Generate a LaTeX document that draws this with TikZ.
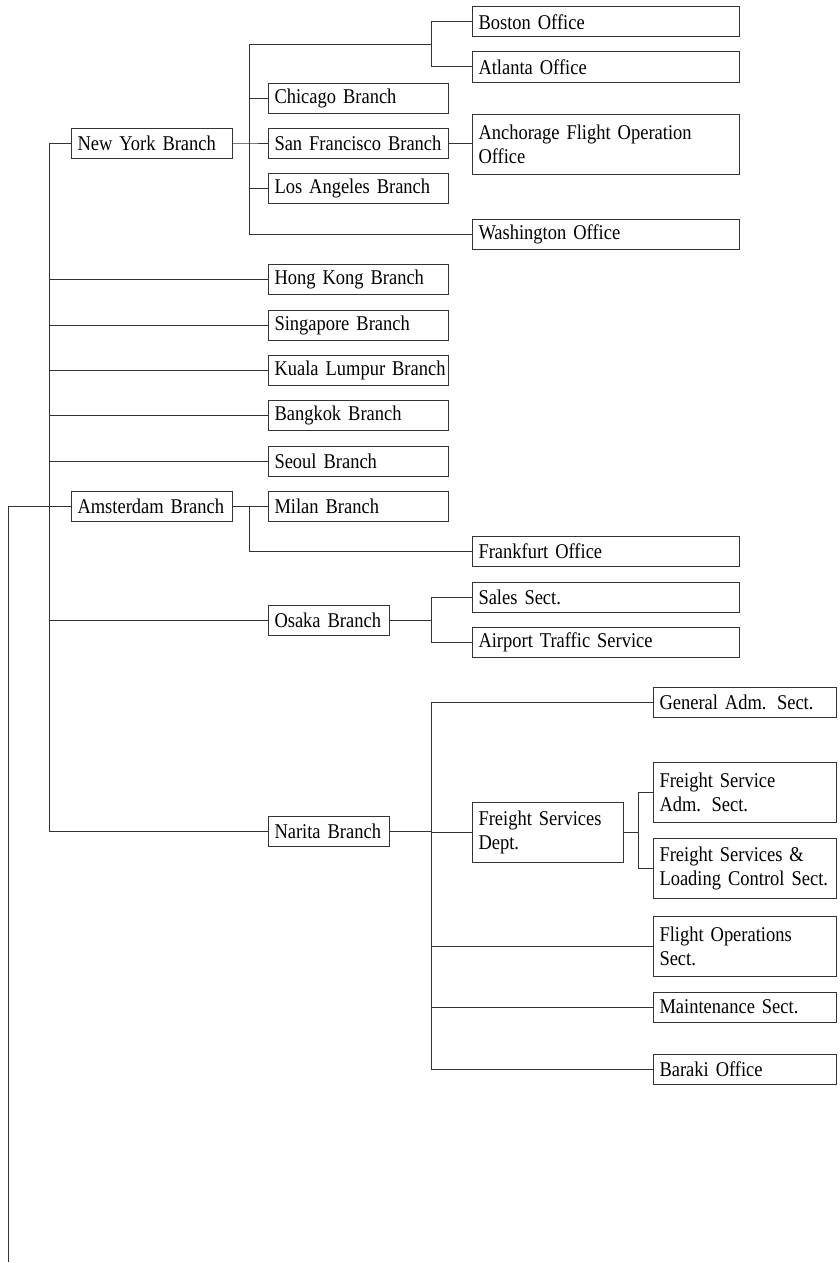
\documentclass[tikz,border=0pt]{standalone}
\usepackage{fontspec}
\setmainfont{Liberation Serif}[FakeStretch=0.88]
\usepackage{tikz}
\DeclareRobustCommand\chartfont{\fontsize{21pt}{24pt}\selectfont\spaceskip=4.5pt plus 1pt\relax}
\tikzset{
	x=1pt, y=-1pt, % one unit is one pixel of the chart, y grows downwards
	every node/.style={font=\chartfont},
	unit/.style={draw=black!80, line width=1pt, anchor=west, align=left,
		inner xsep=6pt, inner ysep=0pt, minimum height=30pt}, % every box of the chart
	tall/.style={minimum height=60pt}, % boxes with two lines of text
	branch/.style={unit, text width=149pt}, % 161 wide
	city/.style={unit, text width=168pt}, % 180 wide
	office/.style={unit, text width=255pt}, % 267 wide
	local/.style={unit, text width=109pt}, % 121 wide
	dept/.style={unit, text width=139pt}, % 151 wide
	sect/.style={unit, text width=171pt}, % 183 wide
	link/.style={draw=black!80, line width=1pt},
}
\begin{document}
\begin{tikzpicture}
	\useasboundingbox (0,0) rectangle (840,1263);
	% first level
	\node[branch] (ny) at (71,143) {New York Branch};
	\node[branch] (ams) at (71,506) {Amsterdam Branch};
	% under New York
	\node[city] (chi) at (268,98) {Chicago Branch};
	\node[city] (sf) at (268,143) {San Francisco Branch};
	\node[city] (la) at (268,188) {Los Angeles Branch};
	\node[office] (bos) at (472,22) {Boston Office};
	\node[office] (atl) at (472,67) {Atlanta Office};
	\node[office, tall] (anc) at (472,144) {Anchorage Flight Operation\\Office};
	\node[office] (was) at (472,234) {Washington Office};
	% Asia
	\node[city] (hk) at (268,279) {Hong Kong Branch};
	\node[city] (sin) at (268,325) {Singapore Branch};
	\node[city] (kl) at (268,370) {Kuala~Lumpur~Branch};
	\node[city] (bkk) at (268,415) {Bangkok Branch};
	\node[city] (sel) at (268,461) {Seoul Branch};
	% under Amsterdam
	\node[city] (mil) at (268,506) {Milan Branch};
	\node[office] (fra) at (472,551) {Frankfurt Office};
	% Osaka
	\node[local] (osa) at (268,620) {Osaka Branch};
	\node[office] (sal) at (472,597) {Sales Sect.};
	\node[office] (air) at (472,642) {Airport Traffic Service};
	% Narita
	\node[local] (nar) at (268,831) {Narita Branch};
	\node[sect] (gen) at (653,702) {General Adm. Sect.};
	\node[dept, tall] (fsd) at (472,832) {Freight Services\\Dept.};
	\node[sect, tall] (fsa) at (653,792) {Freight Service\\Adm. Sect.};
	\node[sect, tall] (fsl) at (653,868) {Freight Services \&\\Loading Control Sect.};
	\node[sect, tall] (fop) at (653,946) {Flight Operations\\Sect.};
	\node[sect] (mnt) at (653,1007) {Maintenance Sect.};
	\node[sect] (bar) at (653,1069) {Baraki Office};
	% junctions
	\coordinate (tail) at (8,1262);
	\coordinate (sp) at (49,143);
	\coordinate (nyj) at (249,143);
	\coordinate (bosj) at (431,45);
	\coordinate (amsj) at (249,506);
	\coordinate (osaj) at (431,620);
	\coordinate (narj) at (431,831);
	\coordinate (fsdj) at (638,832);
	% connectors
	\draw[link] (tail) |- (ams.west);
	\draw[link] (ny.west) -- (sp) |- (nar.west);
	\foreach \n in {hk,sin,kl,bkk,sel,osa}
		\draw[link] (sp |- \n.west) -- (\n.west);
	\draw[link] (ny.east) -- (nyj) -- (sf.west);
	\draw[link] (nyj) |- (bosj);
	\draw[link] (nyj) |- (was.west);
	\draw[link] (nyj) |- (chi.west);
	\draw[link] (nyj) |- (la.west);
	\draw[link] (bosj) |- (bos.west);
	\draw[link] (bosj) |- (atl.west);
	\draw[link] (sf.east) -- (anc.west |- sf.east);
	\draw[link] (ams.east) -- (mil.west);
	\draw[link] (amsj) |- (fra.west);
	\draw[link] (osa.east) -- (osaj);
	\draw[link] (osaj) |- (sal.west);
	\draw[link] (osaj) |- (air.west);
	\draw[link] (nar.east) -- (narj) |- (fsd.west);
	\foreach \n in {gen,fop,mnt,bar}
		\draw[link] (narj) |- (\n.west);
	\draw[link] (fsd.east) -- (fsdj);
	\draw[link] (fsdj) |- (fsa.west);
	\draw[link] (fsdj) |- (fsl.west);
\end{tikzpicture}
\end{document}
